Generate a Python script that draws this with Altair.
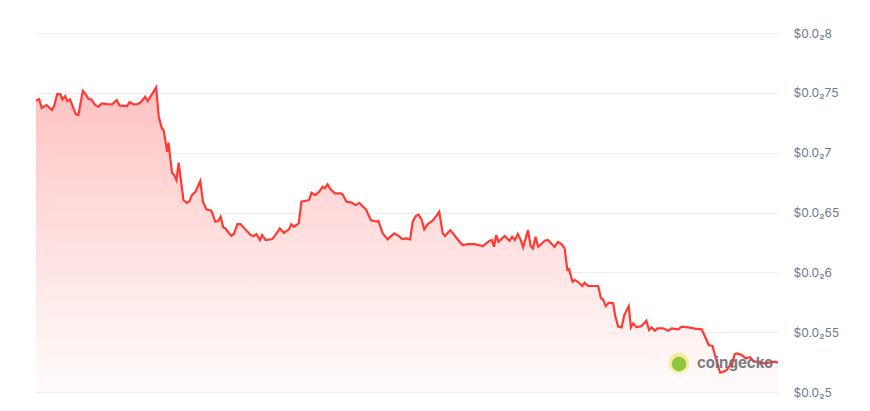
import altair as alt
import pandas as pd

hours = [0.0, 0.7, 1.3, 2.4, 3.6, 4.1, 4.8, 5.5, 6.0, 6.6, 7.1, 7.7, 8.3, 9.0, 9.6,
         10.6, 11.4, 11.9, 12.6, 13.2, 14.1, 14.9, 16.1, 17.2, 18.3, 18.9, 20.6, 21.2,
         22.1, 23.0, 23.8, 24.7, 25.3, 27.2, 27.8, 28.5, 28.9, 29.7, 30.0, 30.8, 31.3,
         31.8, 32.3, 33.4, 34.2, 34.8, 35.3, 36.1, 37.2, 37.8, 38.6, 39.7, 40.6, 41.3,
         41.8, 42.4, 42.9, 43.7, 44.2, 44.8, 45.6, 46.3, 47.4, 48.6, 49.3, 49.9, 50.7,
         51.2, 52.0, 53.5, 54.6, 55.2, 56.1, 57.3, 57.8, 58.4, 59.5, 60.1, 61.1, 61.8,
         62.4, 63.2, 64.1, 64.9, 65.4, 66.0, 66.7, 67.7, 68.9, 69.4, 70.3, 71.3, 72.4,
         73.2, 73.9, 74.7, 75.8, 77.0, 77.5, 78.5, 79.6, 81.1, 82.2, 83.0, 83.8, 84.7,
         85.3, 86.0, 86.6, 87.3, 87.9, 88.7, 89.8, 90.6, 91.3, 92.1, 92.6, 93.8, 94.7,
         95.9, 96.6, 97.8, 99.3, 101.2, 102.7, 103.2, 103.7, 104.2, 104.7, 106.1, 107.2,
         107.8, 108.4, 109.1, 109.7, 110.3, 111.4, 112.0, 112.5, 113.1, 113.7, 115.2,
         115.9, 117.4, 118.2, 119.0, 119.7, 120.3, 120.7, 121.5, 122.0, 122.7, 123.7,
         124.2, 125.0, 127.3, 127.9, 128.4, 129.0, 129.7, 130.7, 131.1, 131.8, 132.6,
         133.2, 134.2, 134.7, 135.2, 136.0, 137.1, 138.2, 138.8, 139.4, 140.1, 140.7,
         142.0, 143.2, 143.9, 145.4, 146.2, 147.7, 149.2, 150.7, 151.5, 152.3, 153.2,
         153.8, 154.9, 155.7, 156.4, 157.2, 157.5, 158.2, 158.7, 159.8, 160.7, 161.7,
         162.5, 163.6, 164.7, 165.9, 167.2, 168.0]

prices = [7.434, 7.448, 7.375, 7.398, 7.356, 7.389, 7.489, 7.489, 7.445, 7.473, 7.431,
          7.445, 7.389, 7.322, 7.314, 7.517, 7.481, 7.448, 7.445, 7.406, 7.383, 7.412,
          7.406, 7.403, 7.439, 7.395, 7.389, 7.423, 7.403, 7.406, 7.425, 7.467, 7.431,
          7.545, 7.300, 7.203, 7.189, 7.007, 7.083, 6.832, 6.813, 6.771, 6.916, 6.604,
          6.581, 6.598, 6.646, 6.673, 6.763, 6.590, 6.526, 6.515, 6.423, 6.431, 6.464,
          6.376, 6.368, 6.326, 6.306, 6.320, 6.403, 6.403, 6.359, 6.312, 6.303, 6.320,
          6.270, 6.312, 6.270, 6.278, 6.331, 6.368, 6.331, 6.359, 6.403, 6.381, 6.409,
          6.590, 6.598, 6.604, 6.665, 6.646, 6.673, 6.715, 6.702, 6.735, 6.693, 6.660,
          6.660, 6.654, 6.590, 6.585, 6.562, 6.581, 6.554, 6.526, 6.437, 6.423, 6.429,
          6.326, 6.276, 6.326, 6.303, 6.276, 6.284, 6.276, 6.423, 6.470, 6.484, 6.443,
          6.359, 6.403, 6.431, 6.470, 6.506, 6.326, 6.303, 6.353, 6.312, 6.256, 6.228,
          6.236, 6.236, 6.220, 6.264, 6.270, 6.214, 6.312, 6.256, 6.303, 6.264, 6.297,
          6.270, 6.320, 6.276, 6.209, 6.353, 6.220, 6.200, 6.297, 6.214, 6.264, 6.270,
          6.214, 6.253, 6.236, 6.200, 6.019, 6.025, 5.921, 5.936, 5.921, 5.886, 5.913,
          5.886, 5.886, 5.783, 5.774, 5.718, 5.746, 5.741, 5.643, 5.546, 5.540, 5.643,
          5.718, 5.540, 5.574, 5.540, 5.551, 5.596, 5.518, 5.540, 5.512, 5.532, 5.532,
          5.512, 5.532, 5.524, 5.546, 5.540, 5.529, 5.524, 5.462, 5.393, 5.384, 5.295,
          5.161, 5.170, 5.184, 5.226, 5.217, 5.317, 5.323, 5.309, 5.282, 5.290, 5.253,
          5.253, 5.240, 5.245, 5.253, 5.245]

tick_values = [0.005, 0.0055, 0.006, 0.0065, 0.007, 0.0075, 0.008]
y_min, y_max = 0.005, 0.008

df = pd.DataFrame({"hour": hours, "price": [p / 1000 for p in prices]})

x_enc = alt.X("hour:Q", axis=None, scale=alt.Scale(domain=[0, 168], nice=False))
y_enc = alt.Y(
    "price:Q",
    scale=alt.Scale(domain=[y_min, y_max], nice=False, zero=False),
    axis=alt.Axis(
        orient="right",
        values=tick_values,
        labelExpr='"$0.0₂" + replace(format(datum.value * 1000, ".2~f"), ".", "")',
        domain=False,
        ticks=False,
        grid=True,
        gridColor="#eeeeee",
        gridWidth=1,
        labelColor="#6b7a90",
        labelFont="Inter",
        labelFontSize=12,
        labelPadding=15,
        title=None,
    ),
)

gradient = alt.Gradient(
    gradient="linear",
    stops=[
        alt.GradientStop(color="#ffc2c2", offset=0),
        alt.GradientStop(color="#ffe3e3", offset=0.55),
        alt.GradientStop(color="#fffbfb", offset=1),
    ],
    x1=1, x2=1, y1=0, y2=1,
)

area = alt.Chart(df).mark_area(
    fill=gradient,
    opacity=1,
    fillOpacity=1,
    line={"color": "#ff3a33", "strokeWidth": 2.2},
).encode(x=x_enc, y=y_enc, y2=alt.datum(y_min))

logo_halo = alt.Chart(pd.DataFrame({"a": [0]})).mark_circle(
    size=420, color="#f7eb9a", opacity=1
).encode(x=alt.value(643), y=alt.value(330))
logo_core = alt.Chart(pd.DataFrame({"a": [0]})).mark_circle(
    size=210, color="#8dc63f", opacity=1
).encode(x=alt.value(643), y=alt.value(331))
logo_text = alt.Chart(pd.DataFrame({"t": ["coingecko"]})).mark_text(
    align="left", baseline="middle", font="Inter", fontSize=15, fontWeight="bold",
    color="#6e6e78", opacity=0.9,
).encode(x=alt.value(661), y=alt.value(330), text="t:N")

chart = alt.layer(area, logo_halo, logo_core, logo_text).properties(
    width=742, height=359, padding={"left": 23, "top": 19, "right": 5, "bottom": 5}
).configure(background="white").configure_view(stroke=None)

chart.save("out.html", embed_options={"renderer": "svg", "actions": False})
